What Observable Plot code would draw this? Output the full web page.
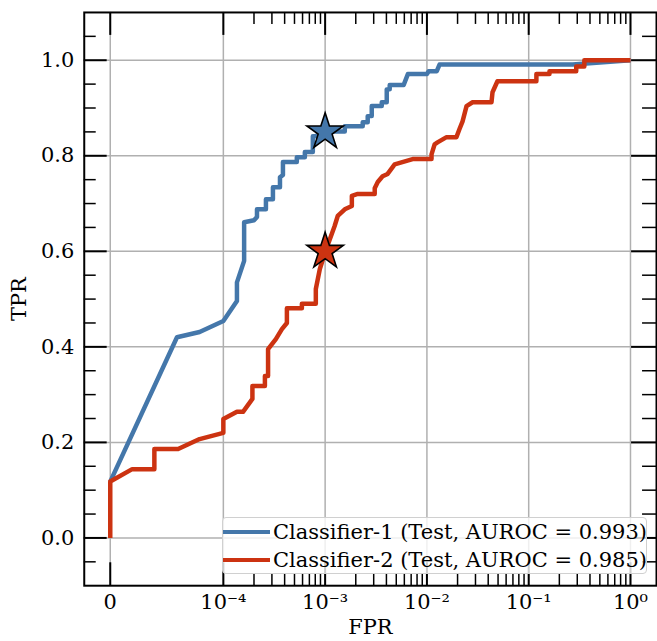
<!DOCTYPE html>
<html>
<head>
<meta charset="utf-8">
<script src="https://cdn.jsdelivr.net/npm/d3@7"></script>
<script src="https://cdn.jsdelivr.net/npm/@observablehq/plot@0.6"></script>
<style>
  html, body { margin: 0; padding: 0; background: #fff; overflow: hidden; }
  #wrap { position: relative; width: 657px; height: 641px; overflow: hidden; }
  #legend {
    position: absolute; left: 222px; top: 517px; width: 425px; height: 57px;
    box-sizing: border-box; border: 1.5px solid #d0d0d0; border-radius: 4px;
    background: rgba(255,255,255,0.8);
    font-family: "DejaVu Serif", serif; font-size: 21px; color: #000;
  }
  .row { position: absolute; left: 0; height: 26px; display: flex; align-items: center; white-space: nowrap; }
  .swatch { display: inline-block; width: 47px; height: 4.5px; margin-right: 3px; }
</style>
</head>
<body>
<div id="wrap"></div>
<script>
// ---- data ----
const classifiers = ["Classifier-1 (Test, AUROC = 0.993)", "Classifier-2 (Test, AUROC = 0.985)"];
const colors = ["#4477AA", "#CC3311"];

const blueFpr = [0, 5.9e-5, 7.9e-5, 1.0e-4, 1.36e-4, 1.36e-4, 1.6e-4, 1.6e-4, 2.0e-4, 2.14e-4, 2.14e-4,
  2.62e-4, 2.62e-4, 3.07e-4, 3.07e-4, 3.6e-4, 3.6e-4, 3.85e-4, 3.85e-4, 5.27e-4, 5.27e-4,
  6.32e-4, 6.32e-4, 7.57e-4, 7.57e-4, 8.5e-4, 8.5e-4, 1.56e-3, 1.56e-3, 2.34e-3, 2.34e-3,
  2.62e-3, 2.62e-3, 2.87e-3, 2.87e-3, 3.6e-3, 3.6e-3, 4.03e-3, 4.03e-3, 4.31e-3, 4.31e-3,
  5.9e-3, 6.5e-3, 1.0e-2, 1.04e-2, 1.25e-2, 1.33e-2, 0.27, 1];
const blueTpr = [0.118, 0.420, 0.431, 0.454, 0.496, 0.535, 0.580, 0.661, 0.665, 0.672, 0.688,
  0.688, 0.709, 0.709, 0.734, 0.734, 0.755, 0.760, 0.787, 0.787, 0.797,
  0.797, 0.808, 0.808, 0.841, 0.841, 0.851, 0.851, 0.862, 0.862, 0.870,
  0.870, 0.883, 0.883, 0.904, 0.904, 0.912, 0.912, 0.939, 0.939, 0.948,
  0.948, 0.971, 0.971, 0.977, 0.977, 0.991, 0.991, 1.0];

const redFpr = [0, 0, 1.94e-5, 3.9e-5, 3.9e-5, 6.0e-5, 7.9e-5, 1.0e-4, 1.0e-4, 1.36e-4, 1.56e-4,
  1.93e-4, 1.93e-4, 2.56e-4, 2.56e-4, 2.75e-4, 2.75e-4, 3.28e-4, 3.76e-4, 4.21e-4, 4.21e-4,
  5.91e-4, 5.91e-4, 8.1e-4, 8.1e-4, 8.87e-4, 1.0e-3, 1.24e-3, 1.33e-3, 1.56e-3, 1.83e-3, 1.83e-3,
  2.09e-3, 3.07e-3, 3.07e-3, 3.29e-3, 3.67e-3, 4.11e-3, 4.82e-3, 7.24e-3, 1.11e-2, 1.11e-2,
  1.19e-2, 1.27e-2, 1.56e-2, 1.95e-2, 2.09e-2, 2.24e-2, 2.45e-2, 2.81e-2, 4.31e-2, 4.41e-2,
  4.93e-2, 0.119, 0.119, 0.16, 0.16, 0.293, 0.293, 0.352, 0.352, 1];
const redTpr = [0, 0.118, 0.144, 0.144, 0.186, 0.186, 0.207, 0.220, 0.249, 0.264, 0.264,
  0.291, 0.318, 0.318, 0.339, 0.339, 0.395, 0.416, 0.437, 0.450, 0.481,
  0.481, 0.490, 0.490, 0.521, 0.563, 0.598, 0.653, 0.674, 0.688, 0.695, 0.716,
  0.720, 0.720, 0.732, 0.745, 0.757, 0.762, 0.782, 0.793, 0.793, 0.803,
  0.824, 0.828, 0.839, 0.839, 0.856, 0.872, 0.904, 0.912, 0.912, 0.933,
  0.956, 0.956, 0.971, 0.971, 0.977, 0.977, 0.987, 0.987, 1.0, 1.0];

const starFpr = [1e-3, 1e-3];
const starTpr = [0.85, 0.60];

const xMajor = [0, 1e-4, 1e-3, 1e-2, 1e-1, 1];
const xMajorLabels = ["0", "10\u207B\u2074", "10\u207B\u00B3", "10\u207B\u00B2", "10\u207B\u00B9", "10\u2070"];
const xMinor = [1e-4, 1e-3, 1e-2, 1e-1].flatMap(d => [2,3,4,5,6,7,8,9].map(m => m * d));
const yMajor = [0, 0.2, 0.4, 0.6, 0.8, 1.0];
const yMinor = [-0.05, 0.05, 0.1, 0.15, 0.25, 0.3, 0.35, 0.45, 0.5, 0.55, 0.65, 0.7, 0.75, 0.85, 0.9, 0.95, 1.05];

// ---- symlog (linthresh 1e-4, linscale 1) transform, as in matplotlib ----
const LT = 1e-4, LS = 1 / (1 - 0.1);
const tf = v => v <= LT ? (v / LT) * LS : LS + Math.log10(v / LT);

const lines = [
  ...blueFpr.map((f, i) => ({x: tf(f), y: blueTpr[i], s: classifiers[0]})),
  ...redFpr.map((f, i) => ({x: tf(f), y: redTpr[i], s: classifiers[1]}))
];
const stars = starFpr.map((f, i) => ({x: tf(f), y: starTpr[i], s: classifiers[i]}));

const W = 659, H = 641, mT = 12, mB = 54, mL = 84, mR = 1;
const fh = H - mT - mB, fw = W - mL - mR;
const xPad = tf(1) * 0.05;
const majorLen = 23, minorLen = 12;
const labelMap = new Map(xMajor.map((v, i) => [tf(v), xMajorLabels[i]]));

const chart = Plot.plot({
  width: W, height: H,
  marginTop: mT, marginBottom: mB, marginLeft: mL, marginRight: mR,
  style: {fontFamily: "DejaVu Serif, serif", fontSize: "21px", background: "white", color: "black"},
  x: {domain: [-xPad, tf(1) + xPad], label: null},
  y: {domain: [-0.1, 1.1], label: null},
  color: {domain: classifiers, range: colors},
  marks: [
    Plot.gridX(xMajor.map(tf), {stroke: "#b0b0b0", strokeOpacity: 1, strokeWidth: 1.5}),
    Plot.gridY(yMajor, {stroke: "#b0b0b0", strokeOpacity: 1, strokeWidth: 1.5}),
    Plot.line(lines, {x: "x", y: "y", z: "s", stroke: "s", strokeWidth: 4.5, strokeLinejoin: "round", strokeLinecap: "butt"}),
    Plot.dot(stars, {x: "x", y: "y", fill: "s", symbol: "star", r: 11.5, stroke: "black", strokeWidth: 1.6}),
    // inward ticks on all four sides
    Plot.ruleX(xMajor.map(tf), {insetTop: fh - majorLen, stroke: "black", strokeWidth: 2}),
    Plot.ruleX(xMajor.map(tf), {insetBottom: fh - majorLen, stroke: "black", strokeWidth: 2}),
    Plot.ruleX(xMinor.map(tf), {insetTop: fh - minorLen, stroke: "black", strokeWidth: 1.5}),
    Plot.ruleX(xMinor.map(tf), {insetBottom: fh - minorLen, stroke: "black", strokeWidth: 1.5}),
    Plot.ruleY(yMajor, {insetRight: fw - majorLen, stroke: "black", strokeWidth: 2}),
    Plot.ruleY(yMajor, {insetLeft: fw - majorLen - 2, stroke: "black", strokeWidth: 2}),
    Plot.ruleY(yMinor, {insetRight: fw - minorLen, stroke: "black", strokeWidth: 1.5}),
    Plot.ruleY(yMinor, {insetLeft: fw - minorLen - 2, stroke: "black", strokeWidth: 1.5}),
    Plot.frame({stroke: "black", strokeWidth: 2}),
    Plot.axisX(xMajor.map(tf), {tickSize: 0, tickPadding: 8, tickFormat: d => labelMap.get(d),
      label: "FPR", labelAnchor: "center", labelArrow: "none", labelOffset: 48, fontSize: 21}),
    Plot.axisY(yMajor, {tickSize: 0, tickPadding: 10, tickFormat: d3.format(".1f"),
      label: "TPR", labelAnchor: "center", labelArrow: "none", labelOffset: 73, fontSize: 21})
  ]
});

const wrap = document.getElementById("wrap");
wrap.appendChild(chart);

const legend = document.createElement("div");
legend.id = "legend";
classifiers.forEach((name, i) => {
  const row = document.createElement("div");
  row.className = "row";
  row.style.top = (1 + i * 28) + "px";
  const sw = document.createElement("span");
  sw.className = "swatch";
  sw.style.background = colors[i];
  row.appendChild(sw);
  const t = document.createElement("span");
  t.textContent = name;
  row.appendChild(t);
  legend.appendChild(row);
});
wrap.appendChild(legend);
</script>
</body>
</html>
